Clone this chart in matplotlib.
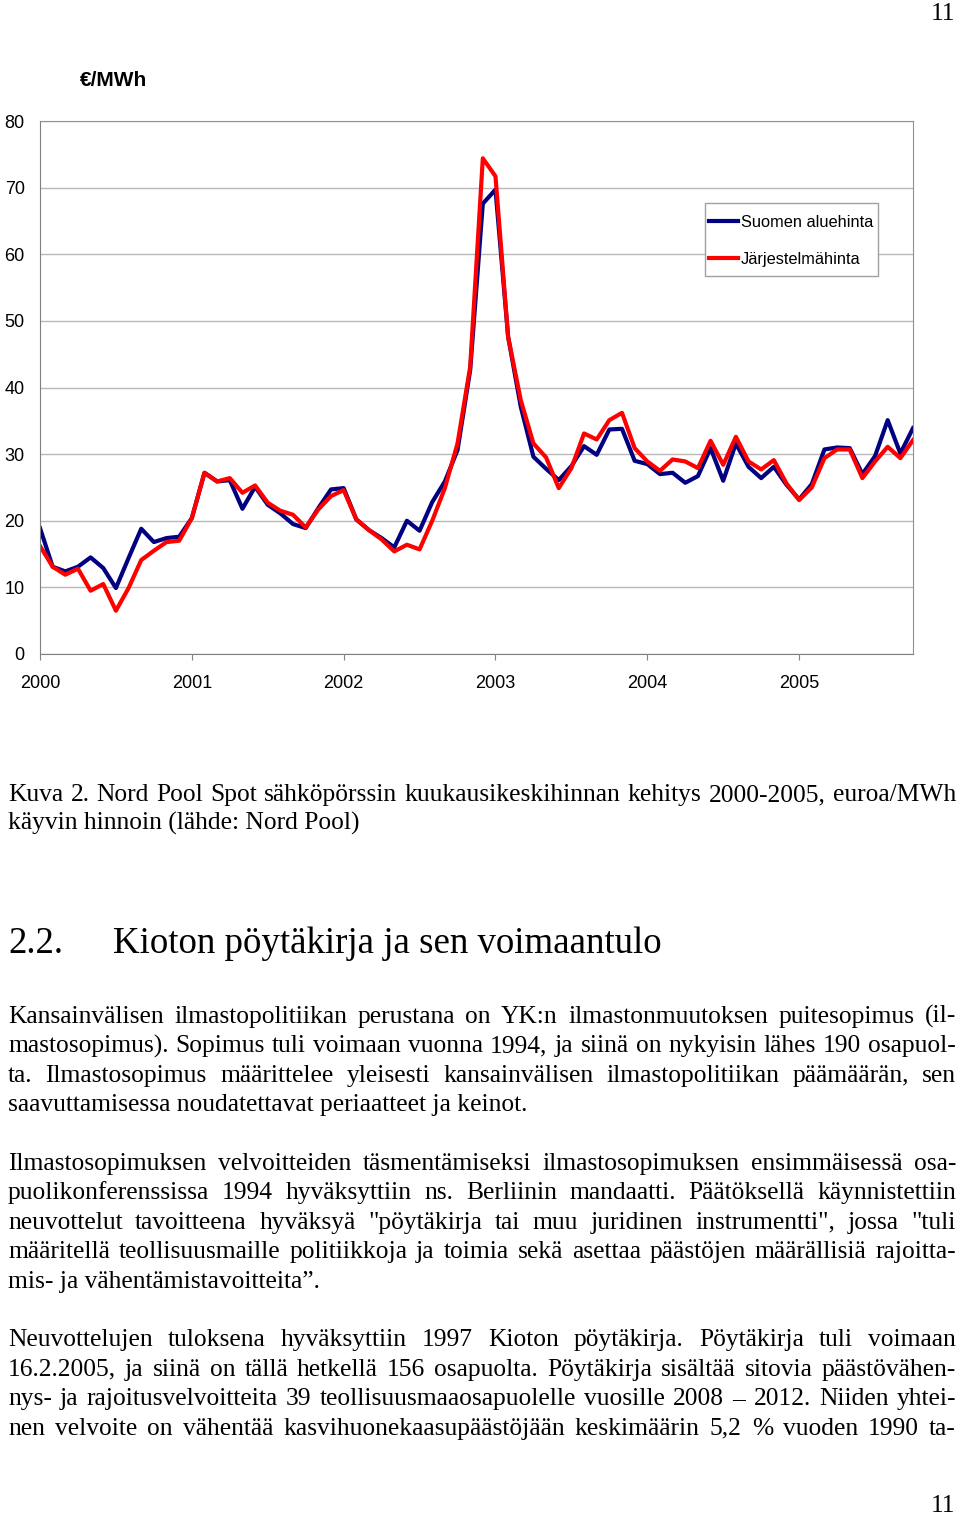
import matplotlib
matplotlib.use("Agg")
import matplotlib.pyplot as plt
from matplotlib.patches import Rectangle
import numpy as np

# monthly averages Jan 2000 - Oct 2005, EUR/MWh
months = np.arange(70)
years = ["2000", "2001", "2002", "2003", "2004", "2005"]
suomi = [18.9, 13.1, 12.4, 13.1, 14.5, 12.9, 9.9, 14.4, 18.8, 16.8, 17.4, 17.6,
         20.4, 27.2, 25.9, 26.1, 21.8, 25.1, 22.4, 21.1, 19.5, 18.9, 21.9, 24.7,
         24.9, 20.2, 18.6, 17.4, 16.0, 20.0, 18.5, 22.8, 25.9, 30.6, 42.6, 67.6,
         69.7, 47.6, 37.1, 29.6, 27.8, 26.1, 28.2, 31.2, 29.9, 33.7, 33.8, 29.0,
         28.5, 27.0, 27.2, 25.7, 26.7, 30.9, 26.0, 31.6, 28.1, 26.4, 28.1, 25.4,
         23.2, 25.5, 30.7, 31.0, 30.9, 27.0, 29.7, 35.1, 30.1, 33.9]
systeemi = [16.2, 13.1, 11.9, 12.8, 9.5, 10.5, 6.5, 9.9, 14.1, 15.5, 16.8, 17.0,
            20.4, 27.2, 25.9, 26.4, 24.2, 25.3, 22.7, 21.5, 20.9, 19.0, 21.7, 23.7,
            24.6, 20.2, 18.6, 17.2, 15.4, 16.4, 15.7, 20.0, 24.9, 31.6, 43.1, 74.4,
            71.7, 47.6, 38.1, 31.6, 29.5, 24.9, 27.9, 33.1, 32.2, 35.1, 36.2, 30.9,
            28.9, 27.5, 29.2, 28.9, 27.9, 32.0, 28.4, 32.6, 28.9, 27.7, 29.1, 25.6,
            23.1, 25.0, 29.4, 30.7, 30.7, 26.4, 28.9, 31.1, 29.4, 32.1]

W, H = 960, 1514
fig = plt.figure(figsize=(W / 100, H / 100), dpi=100)

ax = fig.add_axes([40 / W, 1 - 654 / H, 873 / W, 533 / H])
ax.plot(months, suomi, color="#000080", lw=3.0, label="Suomen aluehinta")
ax.plot(months, systeemi, color="#ff0000", lw=3.0, label="Järjestelmähinta")
ax.set_xlim(0, 69)
ax.set_ylim(0, 80)
ax.set_yticks(range(0, 81, 10))
ax.set_xticks(range(0, 61, 12))
ax.set_xticklabels(years)
ax.grid(axis="y", color="#b8b8b8", lw=1)
ax.set_axisbelow(True)
for s in ax.spines.values():
    s.set_color("#909090")
ax.spines["left"].set_color("#808080")
ax.spines["bottom"].set_color("#808080")
ax.tick_params(axis="x", length=4, color="#808080", pad=11, labelsize=13)
ax.tick_params(axis="y", length=0, pad=11, labelsize=13)
for lab in ax.get_xticklabels() + ax.get_yticklabels():
    lab.set_family("Liberation Sans")

# legend box drawn separately so the padding can be tight like the original
box = Rectangle((705 / W, 1 - 276 / H), 173 / W, 73 / H, transform=fig.transFigure,
                facecolor="white", edgecolor="#a0a0a0", lw=1, zorder=4)
ax.add_artist(box)
box.set_clip_on(False)
leg = ax.legend(loc="upper left", bbox_to_anchor=((709 - 40) / 873, (654 - 215) / 533),
                prop={"family": "Liberation Sans", "size": 11.8}, frameon=False,
                handlelength=1.75, handletextpad=0.2,
                borderpad=0, labelspacing=1.33, borderaxespad=0)
leg.set_zorder(5)

fig.text(80 / W, 1 - 80 / H, "€/MWh", fontsize=15, fontweight="bold",
         family="Liberation Sans", va="center", ha="left")

serif = "Liberation Serif"
renderer = fig.canvas.get_renderer()
BODY = 18.4


def put(x, ybase, s, size=BODY, ha="left"):
    return fig.text(x / W, 1 - ybase / H, s, fontsize=size, family=serif,
                    ha=ha, va="baseline")


def justify(line, ybase, x0=8, x1=956, size=BODY):
    words = line.split(" ")
    texts = [put(0, ybase, w, size) for w in words]
    widths = [t.get_window_extent(renderer).width for t in texts]
    gap = (x1 - x0 - sum(widths)) / (len(words) - 1)
    x = x0
    for t, w in zip(texts, widths):
        t.set_x(x / W)
        x += w + gap


put(955, 20, "11", ha="right")
put(955, 1512, "11", ha="right")

justify("Kuva 2. Nord Pool Spot sähköpörssin kuukausikeskihinnan kehitys 2000-2005, euroa/MWh", 801)
put(8, 830, "käyvin hinnoin (lähde: Nord Pool)")

put(8, 953, "2.2.", size=26.6)
put(113, 953, "Kioton pöytäkirja ja sen voimaantulo", size=26.6)

body = [
    ("Kansainvälisen ilmastopolitiikan perustana on YK:n ilmastonmuutoksen puitesopimus (il-", True),
    ("mastosopimus). Sopimus tuli voimaan vuonna 1994, ja siinä on nykyisin lähes 190 osapuol-", True),
    ("ta. Ilmastosopimus määrittelee yleisesti kansainvälisen ilmastopolitiikan päämäärän, sen", True),
    ("saavuttamisessa noudatettavat periaatteet ja keinot.", False),
    None,
    ("Ilmastosopimuksen velvoitteiden täsmentämiseksi ilmastosopimuksen ensimmäisessä osa-", True),
    ("puolikonferenssissa 1994 hyväksyttiin ns. Berliinin mandaatti. Päätöksellä käynnistettiin", True),
    ("neuvottelut tavoitteena hyväksyä \"pöytäkirja tai muu juridinen instrumentti\", jossa \"tuli", True),
    ("määritellä teollisuusmaille politiikkoja ja toimia sekä asettaa päästöjen määrällisiä rajoitta-", True),
    ("mis- ja vähentämistavoitteita”.", False),
    None,
    ("Neuvottelujen tuloksena hyväksyttiin 1997 Kioton pöytäkirja. Pöytäkirja tuli voimaan", True),
    ("16.2.2005, ja siinä on tällä hetkellä 156 osapuolta. Pöytäkirja sisältää sitovia päästövähen-", True),
    ("nys- ja rajoitusvelvoitteita 39 teollisuusmaaosapuolelle vuosille 2008 – 2012. Niiden yhtei-", True),
    ("nen velvoite on vähentää kasvihuonekaasupäästöjään keskimäärin 5,2 % vuoden 1990 ta-", True),
]
y = 1023
for item in body:
    if item is not None:
        text, just = item
        if just:
            justify(text, y)
        else:
            put(8, y, text)
    y += 29.4

fig.savefig("out.png", dpi=100)
